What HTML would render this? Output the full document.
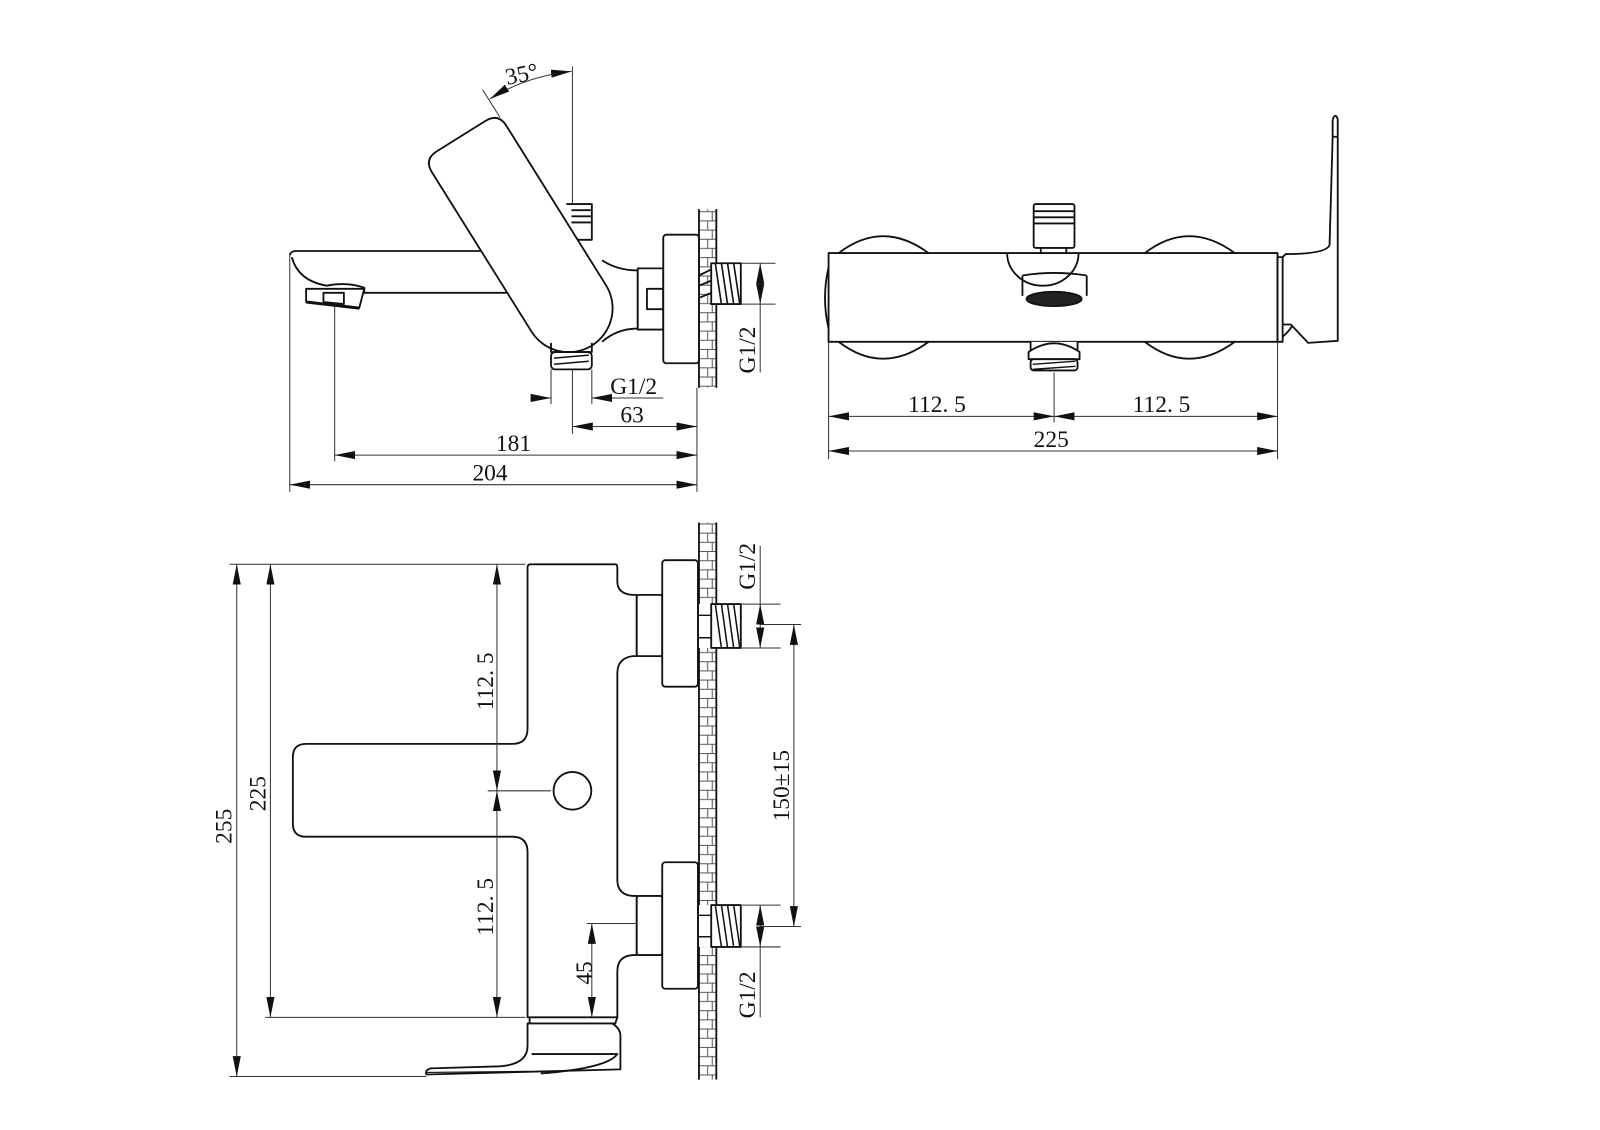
<!DOCTYPE html>
<html><head><meta charset="utf-8"><style>
html,body{margin:0;padding:0;background:#fff;}
svg{display:block;}
text{font-family:"Liberation Serif","DejaVu Serif",serif;font-size:23px;fill:#111;}
</style></head><body>
<svg width="1600" height="1130" viewBox="0 0 1600 1130" xmlns="http://www.w3.org/2000/svg">
<defs>
<marker id="a" viewBox="0 0 20 8" refX="20" refY="4" markerWidth="20" markerHeight="8" markerUnits="userSpaceOnUse" orient="auto-start-reverse"><path d="M0,0 L20,4 L0,8 Z" fill="#111"/></marker>
<pattern id="brick" x="685" y="0" width="17" height="18" patternUnits="userSpaceOnUse">
<line x1="0" y1="0.5" x2="17" y2="0.5" stroke="#555" stroke-width="1"/>
<line x1="0" y1="9.5" x2="17" y2="9.5" stroke="#555" stroke-width="1"/>
<line x1="8.5" y1="0" x2="8.5" y2="9" stroke="#555" stroke-width="1"/>
<line x1="13" y1="9" x2="13" y2="18" stroke="#555" stroke-width="1"/>
</pattern>
</defs>
<g transform="scale(1.0204)" fill="none" stroke="#111" stroke-width="1.8" stroke-linejoin="round">

<!-- ============ TOP-LEFT SIDE VIEW ============ -->
<!-- wall -->
<rect x="685" y="205" width="17" height="175" fill="url(#brick)" stroke="none"/>
<line x1="685" y1="205" x2="685" y2="380"/>
<line x1="702" y1="205" x2="702" y2="380"/>
<!-- spout -->
<path d="M284,250 Q285,246 290,246 L480,246"/>
<path d="M286,252 Q292,275 320,280 Q340,276 357,282 L357,287 L530,287"/>
<path d="M300,283 L357,283 L352,302 L300,296 Z" fill="#fff"/>
<path d="M317,287 L337,287 L337,298 L317,296 Z"/>
<path d="M300,296 L352,302" stroke-width="3"/>
<!-- top cartridge -->
<path d="M555,200 L580,200 L580,235 L555,235" fill="#fff"/>
<line x1="560" y1="206" x2="579" y2="206"/><line x1="560" y1="212" x2="579" y2="212"/><line x1="560" y1="218" x2="579" y2="218"/>
<!-- body joint -->
<path d="M590,255 Q605,265 625,265 L625,322 Q605,322 590,335" fill="#fff"/>
<rect x="625" y="263" width="25" height="60" fill="#fff"/>
<rect x="634" y="283" width="16" height="20"/>
<rect x="650" y="230" width="35" height="126" rx="3" fill="#fff"/>
<!-- wall thread -->
<rect x="697" y="258" width="29" height="40" fill="#fff"/>
<path d="M685,270 L697,264 M685,280 L697,275 M685,292 L697,287" />
<g stroke-width="1.6"><path d="M701,258 L707,298 M707,258 L713,298 M713,258 L719,298 M719,258 L725,298"/></g>
<!-- handle -->
<g transform="translate(516,236) rotate(-32)">
<path d="M-43,-106 Q-43,-121 -28,-121 L28,-121 Q43,-121 43,-106 L43,78 A43,43 0 0 1 -43,78 Z" fill="#fff"/>
</g>
<!-- bottom outlet thread -->
<path d="M540,336 L540,345 L580,345 L580,336"/>
<rect x="540" y="345" width="40" height="17" rx="4" fill="#fff"/>
<path d="M543,351 L577,348 M543,357 L577,354" stroke-width="1.5"/>
<!-- dims top-left -->
<g stroke="#333" stroke-width="1">
<line x1="561" y1="65" x2="561" y2="200"/>
<line x1="473" y1="88" x2="490" y2="115"/>
<path d="M480,97 Q515,75 560,70" marker-start="url(#a)" marker-end="url(#a)"/>
<line x1="284" y1="250" x2="284" y2="482"/>
<line x1="328" y1="300" x2="328" y2="452"/>
<line x1="540" y1="362" x2="540" y2="396"/>
<line x1="580" y1="362" x2="580" y2="396"/>
<line x1="561" y1="362" x2="561" y2="425"/>
<line x1="683" y1="380" x2="683" y2="482"/>
<line x1="520" y1="390" x2="540" y2="390" marker-end="url(#a)"/>
<line x1="650" y1="390" x2="580" y2="390" marker-end="url(#a)"/>
<line x1="561" y1="418" x2="683" y2="418" marker-start="url(#a)" marker-end="url(#a)"/>
<line x1="328" y1="446" x2="683" y2="446" marker-start="url(#a)" marker-end="url(#a)"/>
<line x1="284" y1="475" x2="683" y2="475" marker-start="url(#a)" marker-end="url(#a)"/>
<line x1="726" y1="258" x2="760" y2="258"/>
<line x1="726" y1="298" x2="760" y2="298"/>
<line x1="745" y1="278" x2="745" y2="258" marker-end="url(#a)"/>
<line x1="745" y1="278" x2="745" y2="298" marker-end="url(#a)"/>
<line x1="745" y1="298" x2="745" y2="365"/>
</g>
<g stroke="none">
<text x="495" y="80" transform="rotate(-12 512 72)">35°</text>
<text x="598" y="386">G1/2</text>
<text x="608" y="414">63</text>
<text x="486" y="442">181</text>
<text x="463" y="471">204</text>
<text transform="translate(740,366) rotate(-90)">G1/2</text>
</g>

<!-- ============ TOP-RIGHT FRONT VIEW ============ -->
<path d="M822,248 Q865,215 910,248"/>
<path d="M822,335 Q865,368 910,335"/>
<path d="M1122,248 Q1165,215 1210,248"/>
<path d="M1122,335 Q1165,368 1210,335"/>
<path d="M812,262 Q805,292 812,322"/>
<rect x="812" y="248" width="440" height="87" fill="#fff"/>
<path d="M987,248 A35,32 0 0 0 1057,248"/>
<path d="M1002,270 L1002,290 M1065,270 L1065,290 M1002,270 Q1033,265 1065,270"/>
<ellipse cx="1033" cy="293" rx="27" ry="7" fill="#222"/>
<rect x="1013" y="200" width="40" height="43" rx="2" fill="#fff"/>
<line x1="1013" y1="207" x2="1053" y2="207"/><line x1="1013" y1="213" x2="1053" y2="213"/><line x1="1013" y1="219" x2="1053" y2="219"/>
<path d="M1020,243 L1020,248 M1045,243 L1045,248"/>
<path d="M1010,335 L1010,345 Q1033,328 1056,345 L1056,335" fill="#fff"/>
<path d="M1008,345 Q1033,328 1058,345 L1058,352 L1008,352 Z" fill="#fff"/>
<rect x="1010" y="352" width="46" height="11" rx="3" fill="#fff"/>
<path d="M1012,357 L1054,354 M1012,362 L1054,359" stroke-width="1.4"/>
<!-- lever -->
<rect x="1252" y="252" width="5" height="83"/>
<path d="M1257,252 L1260,249 Q1300,249 1303,240 L1306,134 M1306,117 Q1309,110 1311,117 L1311,334 L1282,336 L1265,318 L1257,318" />
<path d="M1306,134 L1306,117 M1306,134 L1311,134"/>
<path d="M1257,330 Q1262,326 1266,320"/>
<g stroke="#333" stroke-width="1">
<line x1="812" y1="335" x2="812" y2="450"/>
<line x1="1252" y1="335" x2="1252" y2="450"/>
<line x1="1033" y1="365" x2="1033" y2="414"/>
<line x1="812" y1="408" x2="1033" y2="408" marker-start="url(#a)" marker-end="url(#a)"/>
<line x1="1033" y1="408" x2="1252" y2="408" marker-start="url(#a)" marker-end="url(#a)"/>
<line x1="812" y1="442" x2="1252" y2="442" marker-start="url(#a)" marker-end="url(#a)"/>
</g>
<g stroke="none">
<text x="890" y="404">112. 5</text>
<text x="1110" y="404">112. 5</text>
<text x="1013" y="438">225</text>
</g>

<!-- ============ BOTTOM TOP-VIEW ============ -->
<rect x="685" y="512" width="17" height="546" fill="url(#brick)" stroke="none"/>
<line x1="685" y1="512" x2="685" y2="1058"/>
<line x1="702" y1="512" x2="702" y2="1058"/>
<!-- body -->
<path d="M517,556 Q517,553 520,553 L603,553 Q605,553 605,556 L605,570 Q605,582 620,583 L624,583 L624,643 L620,643 Q605,645 605,660 L605,862 Q605,877 620,878 L624,878 L624,936 L620,936 Q605,937 605,952 L605,997 L517,997 L517,835 Q517,820 502,820 L300,820 Q287,820 287,807 L287,742 Q287,729 300,729 L502,729 Q517,729 517,714 Z" fill="#fff"/>
<rect x="624" y="583" width="25" height="60" rx="2" fill="#fff"/>
<rect x="624" y="878" width="25" height="58" rx="2" fill="#fff"/>
<rect x="649" y="549" width="35" height="124" rx="3" fill="#fff"/>
<rect x="649" y="845" width="35" height="124" rx="3" fill="#fff"/>
<circle cx="561" cy="775" r="18.5"/>
<!-- threads -->
<rect x="685" y="592" width="12" height="43" fill="#fff" stroke="none"/>
<rect x="685" y="887" width="12" height="41" fill="#fff" stroke="none"/>
<path d="M685,603 L697,603 M685,625 L697,625 M685,897 L697,897 M685,918 L697,918" stroke-width="1.4"/>
<rect x="697" y="592" width="29" height="43" fill="#fff"/>
<path d="M701,592 L707,635 M707,592 L713,635 M713,592 L719,635 M719,592 L725,635" stroke-width="1.5"/>
<rect x="697" y="887" width="29" height="41" fill="#fff"/>
<path d="M701,887 L707,928 M707,887 L713,928 M713,887 L719,928 M719,887 L725,928" stroke-width="1.5"/>
<!-- bottom spout -->
<path d="M519,997 L519,1003 L603,1003 L605,997"/>
<path d="M517,1003 L600,1003 Q608,1008 608,1015 L608,1048 L418,1053 Q416,1049 422,1047 L490,1045 Q517,1043 517,1025 Z" fill="#fff"/>
<path d="M521,1033 L605,1033 Q595,1047 530,1052"/>
<path d="M418,1051 L518,1050" stroke-width="1.2"/>
<g stroke="#333" stroke-width="1">
<line x1="225" y1="553" x2="515" y2="553"/>
<line x1="260" y1="997" x2="515" y2="997"/>
<line x1="225" y1="1055" x2="418" y2="1055"/>
<line x1="478" y1="775" x2="540" y2="775"/>
<line x1="575" y1="905" x2="624" y2="905"/>
<line x1="232" y1="553" x2="232" y2="1055" marker-start="url(#a)" marker-end="url(#a)"/>
<line x1="265" y1="553" x2="265" y2="997" marker-start="url(#a)" marker-end="url(#a)"/>
<line x1="487" y1="553" x2="487" y2="775" marker-start="url(#a)" marker-end="url(#a)"/>
<line x1="487" y1="775" x2="487" y2="997" marker-start="url(#a)" marker-end="url(#a)"/>
<line x1="580" y1="905" x2="580" y2="997" marker-start="url(#a)" marker-end="url(#a)"/>
<line x1="726" y1="592" x2="765" y2="592"/>
<line x1="726" y1="635" x2="765" y2="635"/>
<line x1="745" y1="535" x2="745" y2="592"/>
<line x1="745" y1="613" x2="745" y2="592" marker-end="url(#a)"/>
<line x1="745" y1="613" x2="745" y2="635" marker-end="url(#a)"/>
<line x1="745" y1="612" x2="785" y2="612"/>
<line x1="726" y1="887" x2="765" y2="887"/>
<line x1="726" y1="928" x2="765" y2="928"/>
<line x1="745" y1="908" x2="745" y2="887" marker-end="url(#a)"/>
<line x1="745" y1="908" x2="745" y2="928" marker-end="url(#a)"/>
<line x1="745" y1="928" x2="745" y2="997"/>
<line x1="745" y1="908" x2="785" y2="908"/>
<line x1="778" y1="612" x2="778" y2="908" marker-start="url(#a)" marker-end="url(#a)"/>
</g>
<g stroke="none">
<text transform="translate(227,827) rotate(-90)">255</text>
<text transform="translate(260,795) rotate(-90)">225</text>
<text transform="translate(483,696) rotate(-90)">112. 5</text>
<text transform="translate(483,917) rotate(-90)">112. 5</text>
<text transform="translate(580,965) rotate(-90)">45</text>
<text transform="translate(773,805) rotate(-90)">150±15</text>
<text transform="translate(740,578) rotate(-90)">G1/2</text>
<text transform="translate(740,998) rotate(-90)">G1/2</text>
</g>
</g>
</svg>
</body></html>
